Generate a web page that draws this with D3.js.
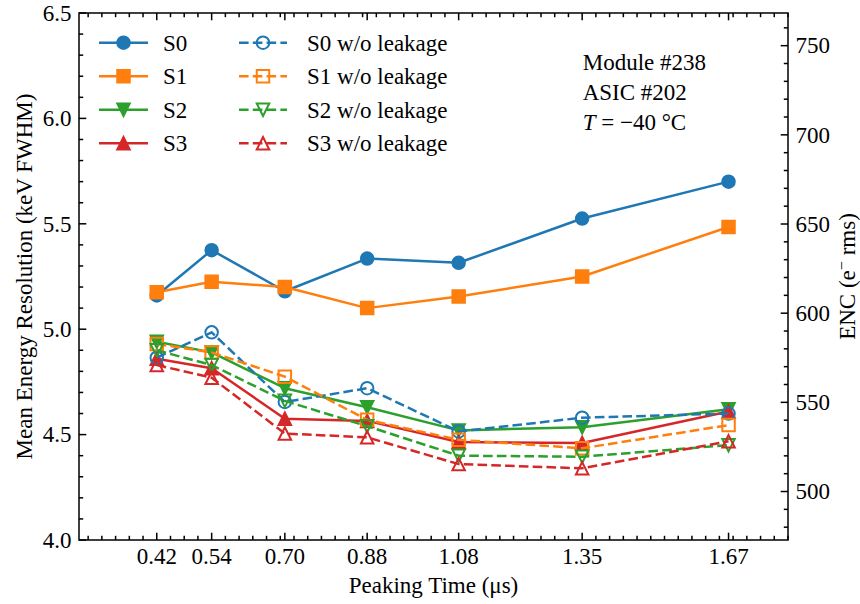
<!DOCTYPE html>
<html>
<head>
<meta charset="utf-8">
<script src="https://cdn.jsdelivr.net/npm/d3@7"></script>
<style>
  html, body { margin: 0; padding: 0; background: #fff; }
  svg text { font-family: "Liberation Serif", "Times New Roman", "DejaVu Serif", serif; fill: #000; }
</style>
</head>
<body>
<svg id="chart" width="860" height="604"></svg>
<script>
// Peaking times (µs) and mean energy resolution (keV FWHM) per channel group
const peakingTimes = [0.42, 0.54, 0.70, 0.88, 1.08, 1.35, 1.67];
const tickLabels = ["0.42", "0.54", "0.70", "0.88", "1.08", "1.35", "1.67"];

const s0 = [5.16, 5.375, 5.18, 5.335, 5.315, 5.525, 5.70];
const s1 = [5.175, 5.225, 5.20, 5.10, 5.155, 5.25, 5.485];
const s2 = [4.94, 4.89, 4.72, 4.63, 4.52, 4.535, 4.62];
const s3 = [4.86, 4.815, 4.575, 4.565, 4.465, 4.46, 4.61];

const s0NoLeak = [4.865, 4.985, 4.655, 4.72, 4.515, 4.58, 4.60];
const s1NoLeak = [4.93, 4.89, 4.775, 4.57, 4.475, 4.435, 4.545];
const s2NoLeak = [4.90, 4.83, 4.66, 4.54, 4.40, 4.395, 4.45];
const s3NoLeak = [4.83, 4.77, 4.505, 4.487, 4.36, 4.34, 4.468];

const seriesNames = ["S0", "S1", "S2", "S3",
  "S0 w/o leakage", "S1 w/o leakage", "S2 w/o leakage", "S3 w/o leakage"];
const colors = ["#1f77b4", "#ff7f0e", "#2ca02c", "#d62728"];
const markerTypes = ["circle", "square", "tridown", "triup"];

const annotationLines = ["Module #238", "ASIC #202"];

// keV FWHM -> electrons rms (Si, w = 3.6 eV)
const ENC_PER_KEV = 1000 / (2.35 * 3.6);

const series = [s0, s1, s2, s3, s0NoLeak, s1NoLeak, s2NoLeak, s3NoLeak].map((vals, i) => ({
  name: seriesNames[i],
  values: vals,
  color: colors[i % 4],
  marker: markerTypes[i % 4],
  filled: i < 4,
  dashed: i >= 4
}));

const svg = d3.select("#chart");
const m = { left: 79, right: 788, top: 13, bottom: 540 };

const x = d3.scaleLinear().domain([0.25, 1.8]).range([m.left, m.right]);
const y = d3.scaleLinear().domain([4.0, 6.5]).range([m.bottom, m.top]);
const yEnc = d3.scaleLinear().domain([4.0 * ENC_PER_KEV, 6.5 * ENC_PER_KEV]).range([m.bottom, m.top]);

const FS = 23;
const MS = 12.5;      // marker size
const LW = 2.5;       // line width
const MEW = 2.0;      // marker edge width
const DASH = "9.6,4.2";
const TICK_MAJ = 7.3, TICK_MIN = 4.2, AXW = 1.5;

function markerPath(type, s) {
  const h = s / 2;
  if (type === "circle") {
    const p = d3.path();
    p.arc(0, 0, h, 0, 2 * Math.PI);
    p.closePath();
    return p.toString();
  }
  if (type === "square") return `M${-h},${-h}H${h}V${h}H${-h}Z`;
  if (type === "triup") return `M0,${-h}L${h},${h}L${-h},${h}Z`;
  if (type === "tridown") return `M0,${h}L${h},${-h}L${-h},${-h}Z`;
}

function drawMarker(g, s, cx, cy) {
  g.append("path")
    .attr("d", markerPath(s.marker, MS))
    .attr("transform", `translate(${cx},${cy})`)
    .attr("fill", s.filled ? s.color : "none")
    .attr("stroke", s.color)
    .attr("stroke-width", MEW)
    .attr("stroke-linejoin", "miter");
}

// ---- series ----
const plot = svg.append("g");
const line = d3.line().x((d, i) => x(peakingTimes[i])).y(d => y(d));
series.forEach(s => {
  const g = plot.append("g");
  g.append("path")
    .attr("d", line(s.values))
    .attr("fill", "none")
    .attr("stroke", s.color)
    .attr("stroke-width", LW)
    .attr("stroke-dasharray", s.dashed ? DASH : null)
    .attr("stroke-linejoin", "round");
  s.values.forEach((v, i) => drawMarker(g, s, x(peakingTimes[i]), y(v)));
});

// ---- axes (ticks pointing inward) ----
const ax = svg.append("g");
function tick(x1, y1, x2, y2) {
  ax.append("line").attr("x1", x1).attr("y1", y1).attr("x2", x2).attr("y2", y2)
    .attr("stroke", "#000").attr("stroke-width", AXW);
}

// x minor ticks: a quarter of the first major spacing, anchored at the first major
const minorStep = (peakingTimes[1] - peakingTimes[0]) / 4;
const xMinor = d3.range(-20, 60).map(k => +(peakingTimes[0] + k * minorStep).toFixed(4))
  .filter(v => v >= 0.25 && v <= 1.8 && !peakingTimes.some(p => Math.abs(p - v) < 1e-6));
xMinor.forEach(v => {
  tick(x(v), m.bottom, x(v), m.bottom - TICK_MIN);
  tick(x(v), m.top, x(v), m.top + TICK_MIN);
});
peakingTimes.forEach((v, i) => {
  tick(x(v), m.bottom, x(v), m.bottom - TICK_MAJ);
  tick(x(v), m.top, x(v), m.top + TICK_MAJ);
  ax.append("text").attr("x", x(v)).attr("y", 564)
    .attr("text-anchor", "middle").attr("font-size", FS).text(tickLabels[i]);
});

// left axis
d3.range(40, 66).map(k => k / 10).forEach(v => {
  const major = Math.abs(v * 2 - Math.round(v * 2)) < 1e-6;
  tick(m.left, y(v), m.left + (major ? TICK_MAJ : TICK_MIN), y(v));
  if (major) {
    ax.append("text").attr("x", 71.5).attr("y", y(v)).attr("dy", "0.34em")
      .attr("text-anchor", "end").attr("font-size", FS).text(d3.format(".1f")(v));
  }
});

// right axis (ENC)
const [e0, e1] = yEnc.domain();
d3.range(Math.ceil(e0 / 10) * 10, e1, 10).forEach(v => {
  const major = v % 50 === 0;
  tick(m.right, yEnc(v), m.right - (major ? TICK_MAJ : TICK_MIN), yEnc(v));
  if (major) {
    ax.append("text").attr("x", 795.5).attr("y", yEnc(v)).attr("dy", "0.34em")
      .attr("text-anchor", "start").attr("font-size", FS).text(v);
  }
});

// frame
ax.append("rect").attr("x", m.left).attr("y", m.top)
  .attr("width", m.right - m.left).attr("height", m.bottom - m.top)
  .attr("fill", "none").attr("stroke", "#000").attr("stroke-width", AXW);

// axis titles
svg.append("text").attr("x", (m.left + m.right) / 2).attr("y", 593)
  .attr("text-anchor", "middle").attr("font-size", FS).text("Peaking Time (μs)");

svg.append("text")
  .attr("transform", `translate(31.5,${(m.top + m.bottom) / 2}) rotate(-90)`)
  .attr("text-anchor", "middle").attr("font-size", FS)
  .text("Mean Energy Resolution (keV FWHM)");

const encLabel = svg.append("text")
  .attr("transform", `translate(855,${(m.top + m.bottom) / 2}) rotate(-90)`)
  .attr("text-anchor", "middle").attr("font-size", FS);
encLabel.append("tspan").text("ENC (e");
encLabel.append("tspan").attr("dy", -8).attr("font-size", FS * 0.7).text("−");
encLabel.append("tspan").attr("dy", 8).text(" rms)");

// ---- legend (two columns) ----
const legend = svg.append("g");
const rowY = [42.7, 76.2, 109.7, 143.2];
const cols = [{ x0: 99, x1: 148, tx: 163 }, { x0: 239, x1: 287, tx: 307 }];
series.forEach((s, i) => {
  const c = cols[Math.floor(i / 4)];
  const ry = rowY[i % 4];
  const g = legend.append("g");
  g.append("line").attr("x1", c.x0).attr("x2", c.x1).attr("y1", ry).attr("y2", ry)
    .attr("stroke", s.color).attr("stroke-width", LW)
    .attr("stroke-dasharray", s.dashed ? DASH : null);
  drawMarker(g, s, (c.x0 + c.x1) / 2, ry);
  g.append("text").attr("x", c.tx).attr("y", ry + 7.8).attr("font-size", FS).text(s.name);
});

// ---- annotation ----
const ann = svg.append("g");
annotationLines.forEach((t, i) => {
  ann.append("text").attr("x", 582.7).attr("y", [70, 100][i]).attr("font-size", FS).text(t);
});
const tLine = ann.append("text").attr("x", 582.7).attr("y", 129.5).attr("font-size", FS);
tLine.append("tspan").attr("font-style", "italic").text("T");
tLine.append("tspan").text(" = −40 °C");
</script>
</body>
</html>
